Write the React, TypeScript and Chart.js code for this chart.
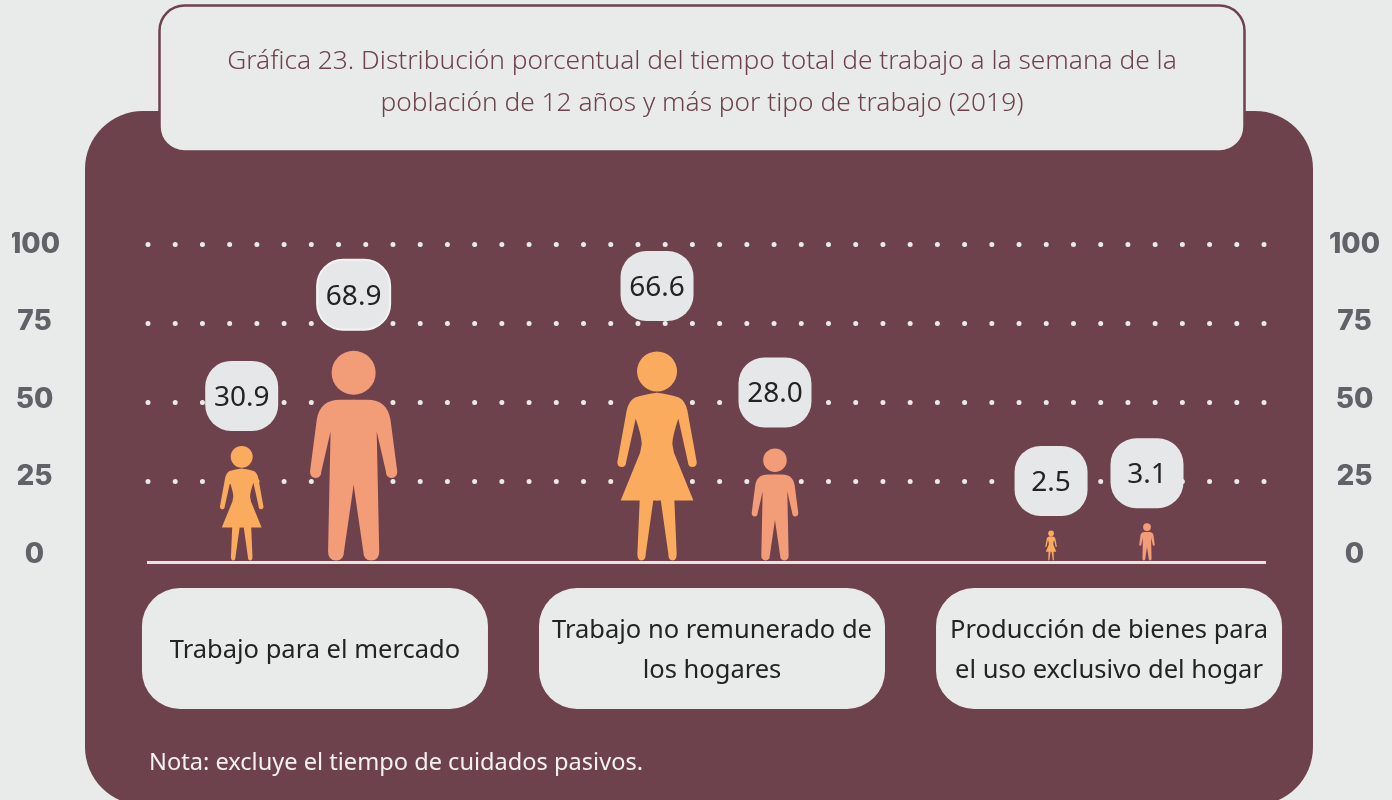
import React, { useEffect, useRef } from "react";
import { Chart, registerables } from "chart.js";

Chart.register(...registerables);

// ---- data ----
const categories: string[][] = [
  ["Trabajo para el mercado"],
  ["Trabajo no remunerado de", "los hogares"],
  ["Producción de bienes para", "el uso exclusivo del hogar"],
];
const mujeres = [30.9, 66.6, 2.5];
const hombres = [68.9, 28.0, 3.1];
const yTicks = [0, 25, 50, 75, 100];
const titleLines = [
  "Gráfica 23. Distribución porcentual del tiempo total de trabajo a la semana de la",
  "población de 12 años y más por tipo de trabajo (2019)",
];
const nota = "Nota: excluye el tiempo de cuidados pasivos.";

// ---- presentation ----
const BG = "#e9ebea";
const PANEL = "#6d424d";
const WOMAN = "#fbab5e";
const MAN = "#f29c78";
const DARK = "#232323";
const FONT = '"Noto Sans", sans-serif';

// dx: shift from the bar's centre; k: pictogram height relative to bar height; up: callout centre above the figure's head
const figureStyle = [
  [
    { dx: -18, k: 1.173, up: 50 },
    { dx: 25, k: 0.993, up: 65.5 },
    { dx: 46.7, k: 3.8, up: 49.5 },
  ],
  [
    { dx: -55, k: 0.963, up: 56, ring: true },
    { dx: -6, k: 1.266, up: 56 },
    { dx: -6.3, k: 3.8, up: 50 },
  ],
];
const boxShift = [-19.2, 5.5, 30.2];

type Ctx = CanvasRenderingContext2D;

function halfMan(c: Ctx) {
  c.beginPath();
  c.moveTo(0.004, 0.234);
  c.lineTo(-0.064, 0.234);
  c.bezierCurveTo(-0.13, 0.234, -0.165, 0.265, -0.176, 0.33);
  c.lineTo(-0.208, 0.576);
  c.quadraticCurveTo(-0.208, 0.607, -0.181, 0.607);
  c.quadraticCurveTo(-0.154, 0.607, -0.154, 0.576);
  c.lineTo(-0.11, 0.385);
  c.lineTo(-0.122, 0.957);
  c.quadraticCurveTo(-0.122, 1, -0.084, 1);
  c.quadraticCurveTo(-0.046, 1, -0.046, 0.957);
  c.lineTo(0, 0.64);
  c.lineTo(0.004, 0.64);
  c.closePath();
  c.fill();
}

function halfWoman(c: Ctx) {
  c.beginPath();
  c.moveTo(0.004, 0.198);
  c.quadraticCurveTo(-0.06, 0.205, -0.105, 0.22);
  c.quadraticCurveTo(-0.135, 0.235, -0.145, 0.282);
  c.lineTo(-0.19, 0.53);
  c.quadraticCurveTo(-0.19, 0.553, -0.169, 0.553);
  c.quadraticCurveTo(-0.148, 0.553, -0.148, 0.53);
  c.lineTo(-0.102, 0.322);
  c.quadraticCurveTo(-0.075, 0.4, -0.073, 0.442);
  c.lineTo(-0.081, 0.485);
  c.lineTo(-0.174, 0.713);
  c.lineTo(-0.083, 0.713);
  c.lineTo(-0.094, 0.968);
  c.quadraticCurveTo(-0.094, 1, -0.075, 1);
  c.quadraticCurveTo(-0.054, 1, -0.054, 0.968);
  c.lineTo(-0.018, 0.713);
  c.lineTo(0.004, 0.713);
  c.closePath();
  c.fill();
}

function drawFigure(c: Ctx, x: number, bottom: number, h: number, woman: boolean) {
  c.save();
  c.translate(x, bottom - h);
  c.scale(h, h);
  c.fillStyle = woman ? WOMAN : MAN;
  const r = woman ? 0.0957 : 0.105;
  c.beginPath();
  c.arc(0, r, r, 0, Math.PI * 2);
  c.fill();
  const half = woman ? halfWoman : halfMan;
  half(c);
  c.scale(-1, 1);
  half(c);
  c.restore();
}

function roundBox(c: Ctx, x: number, y: number, w: number, h: number, r: number) {
  c.beginPath();
  c.roundRect(x, y, w, h, r);
}

const backdrop = {
  id: "backdrop",
  beforeDraw(chart: any) {
    const c: Ctx = chart.ctx;
    c.save();
    c.fillStyle = BG;
    c.fillRect(0, 0, 1392, 800);
    c.fillStyle = PANEL;
    roundBox(c, 85, 111, 1228, 694, 58);
    c.fill();
    c.fillStyle = BG;
    c.strokeStyle = PANEL;
    c.lineWidth = 2.5;
    roundBox(c, 159.5, 5.5, 1085, 146, 25);
    c.fill();
    c.stroke();
    c.restore();
    // the grid's zero-length dashes become round dots
    c.lineCap = "round";
  },
  beforeDatasetsDraw(chart: any) {
    chart.ctx.lineCap = "butt";
  },
};

const pictograms = {
  id: "pictograms",
  afterDatasetsDraw(chart: any) {
    const c: Ctx = chart.ctx;
    const xScale = chart.scales.x;
    // category boxes and their labels
    c.save();
    c.textAlign = "center";
    c.textBaseline = "middle";
    c.font = `400 25.5px ${FONT}`;
    chart.data.labels.forEach((lines: string[], i: number) => {
      const cx = xScale.getPixelForValue(i) + boxShift[i];
      c.fillStyle = BG;
      roundBox(c, cx - 173, 588, 346, 121, 38);
      c.fill();
      c.fillStyle = DARK;
      lines.forEach((t, j) => {
        c.fillText(t, cx, 650.5 + (j - (lines.length - 1) / 2) * 40);
      });
    });
    c.restore();

    chart.data.datasets.forEach((ds: any, d: number) => {
      chart.getDatasetMeta(d).data.forEach((bar: any, i: number) => {
        const s: any = figureStyle[d][i];
        const x = bar.x + s.dx;
        const h = (bar.base - bar.y) * s.k;
        drawFigure(c, x, bar.base, h, d === 0);
        const cy = bar.base - h - s.up;
        c.save();
        c.fillStyle = "#e6e7e9";
        roundBox(c, x - 36.5, cy - 35, 73, 70, 26);
        c.fill();
        if (s.ring) {
          c.strokeStyle = "#f4f4f4";
          c.lineWidth = 2;
          c.stroke();
        }
        c.fillStyle = DARK;
        c.font = `28px ${FONT}`;
        c.textAlign = "center";
        c.textBaseline = "middle";
        c.fillText(ds.data[i].toFixed(1), x, cy + 2);
        c.restore();
      });
    });

    c.save();
    c.fillStyle = "#f3f1f1";
    c.font = `23.6px ${FONT}`;
    c.textBaseline = "middle";
    c.fillText(nota, 149, 763);
    c.restore();
  },
};

const tickAxis = (position: "left" | "right", padding: number, width: number) => ({
  type: "linear" as const,
  position,
  min: -2.52,
  max: 110.1,
  afterBuildTicks(a: any) {
    a.ticks = yTicks.map((value) => ({ value }));
  },
  afterFit(a: any) {
    a.width = width;
  },
  grid: { display: false, drawTicks: false },
  border: { display: false },
  ticks: {
    padding,
    crossAlign: "center" as const,
    color: "#5f6367",
    font: { family: "Inter, sans-serif", weight: 800, size: 28 },
  },
});

export default function App() {
  const ref = useRef<HTMLCanvasElement>(null);
  useEffect(() => {
    const chart = new Chart(ref.current as HTMLCanvasElement, {
      type: "bar",
      data: {
        labels: categories as any,
        datasets: [
          { label: "Mujeres", data: mujeres, backgroundColor: "rgba(0,0,0,0)", borderWidth: 0 },
          { label: "Hombres", data: hombres, backgroundColor: "rgba(0,0,0,0)", borderWidth: 0 },
        ],
      },
      plugins: [backdrop, pictograms],
      options: {
        responsive: false,
        animation: false,
        layout: { padding: { left: 12, right: 0, top: 0, bottom: 0 } },
        plugins: {
          legend: { display: false },
          tooltip: { enabled: false },
          title: {
            display: true,
            text: titleLines,
            color: PANEL,
            font: { family: FONT, weight: 300, size: 26.3, lineHeight: 42 / 26.3 },
            padding: { top: 41, bottom: 87.8 },
          },
        },
        scales: {
          x: {
            type: "category",
            afterFit(a: any) {
              a.height = 238;
            },
            grid: { display: false, drawTicks: false },
            border: { display: true, color: "#e6e1e3", width: 3, z: 1 },
            ticks: { display: false },
          },
          y: {
            type: "linear",
            position: "left",
            min: -0.5,
            max: 110,
            beginAtZero: false,
            afterBuildTicks(a: any) {
              a.ticks = yTicks.filter((v) => v > 0).map((value) => ({ value }));
            },
            afterFit(a: any) {
              a.width = 0;
            },
            grid: { color: "#e9ebea", lineWidth: 5, drawTicks: false },
            border: { display: false, dash: [0, 27.22] },
            ticks: { display: false },
          },
          yLeft: tickAxis("left", 88, 136),
          yRight: tickAxis("right", 64, 127),
        } as any,
      },
    });
    return () => chart.destroy();
  }, []);
  return (
    <canvas
      ref={ref}
      width={1392}
      height={800}
      style={{ position: "fixed", left: 0, top: 0, display: "block" }}
    />
  );
}
